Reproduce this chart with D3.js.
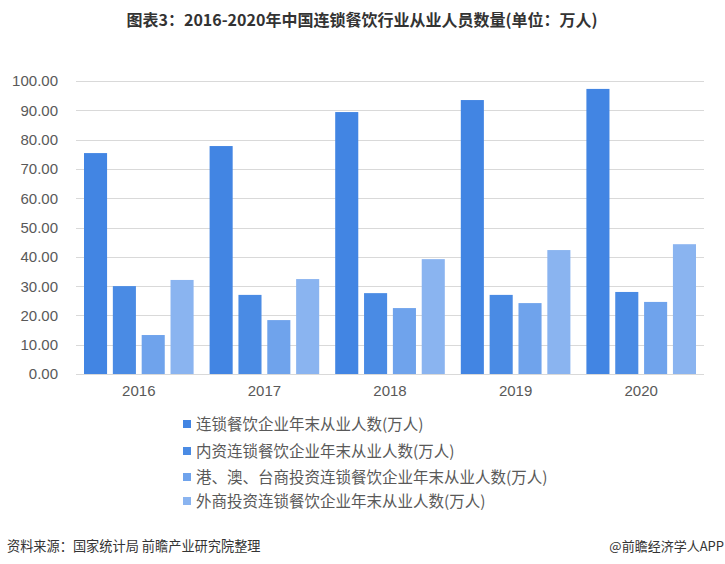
<!DOCTYPE html>
<html><head><meta charset="utf-8">
<script src="https://cdn.jsdelivr.net/npm/d3@7/dist/d3.min.js"></script>
<style>body{margin:0;background:#fff}svg{display:block}</style>
</head><body>
<svg id="c" width="725" height="564"></svg>
<script>
const years = ["2016","2017","2018","2019","2020"];
const seriesNames = [
  "连锁餐饮企业年末从业人数(万人)",
  "内资连锁餐饮企业年末从业人数(万人)",
  "港、澳、台商投资连锁餐饮企业年末从业人数(万人)",
  "外商投资连锁餐饮企业年末从业人数(万人)"
];
const totalValues    = [75.4, 77.8, 89.4, 93.5, 97.3];
const domesticValues = [30.0, 27.0, 27.6, 27.0, 28.0];
const hmtValues      = [13.3, 18.4, 22.5, 24.2, 24.6];
const foreignValues  = [32.1, 32.4, 39.2, 42.3, 44.3];
const yTicks = [0,10,20,30,40,50,60,70,80,90,100];
const colors = ["#4285e3","#4a8be4","#6fa3ec","#8ab4f0"];

const series = [totalValues, domesticValues, hmtValues, foreignValues];
const svg = d3.select("#c");
const font = "'Liberation Sans','Noto Sans CJK SC',sans-serif";
const cjk = "'Noto Sans CJK SC',sans-serif";

const x0 = d3.scaleBand().domain(years).range([76,704]).paddingInner(0).paddingOuter(0);
const x1 = d3.scaleBand().domain(d3.range(4)).range([8, x0.bandwidth()-8]).paddingInner(0.2).paddingOuter(0);
const y = d3.scaleLinear().domain([0,100]).range([374,81]);

// grid
svg.append("g").selectAll("line").data(yTicks).join("line")
  .attr("x1",76).attr("x2",704)
  .attr("y1",d=>Math.round(y(d))+0.5).attr("y2",d=>Math.round(y(d))+0.5)
  .attr("stroke","#d9d9d9").attr("stroke-width",1);

// y labels
svg.append("g").selectAll("text").data(yTicks).join("text")
  .attr("x",58).attr("y",d=>y(d)).attr("dy","0.36em")
  .attr("text-anchor","end").attr("font-family",font).attr("font-size",15)
  .attr("fill","#595959").text(d=>d.toFixed(2));

// bars
const g = svg.append("g");
years.forEach((yr,i)=>{
  series.forEach((s,k)=>{
    g.append("rect")
      .attr("x", x0(yr)+x1(k)).attr("width", x1.bandwidth())
      .attr("y", y(s[i])).attr("height", y(0)-y(s[i]))
      .attr("fill", colors[k]);
  });
});

// x labels
svg.append("g").selectAll("text").data(years).join("text")
  .attr("x",d=>x0(d)+x0.bandwidth()/2).attr("y",391).attr("dy","0.36em")
  .attr("text-anchor","middle").attr("font-family",font).attr("font-size",15)
  .attr("fill","#595959").text(d=>d);

// legend
const legY = [424,451,477,501];
const lg = svg.append("g");
seriesNames.forEach((n,k)=>{
  lg.append("rect").attr("x",183).attr("y",legY[k]-4).attr("width",8).attr("height",8).attr("fill",colors[k]);
  lg.append("text").attr("x",196).attr("y",legY[k]).attr("dy","0.36em")
    .attr("font-family",cjk).attr("font-size",15.5).attr("fill","#595959").text(n);
});

// title
svg.append("text").attr("x",362).attr("y",20).attr("dy","0.36em")
  .attr("text-anchor","middle").attr("font-family",cjk).attr("font-weight","bold")
  .attr("font-size",16).attr("fill","#333").text("图表3：2016-2020年中国连锁餐饮行业从业人员数量(单位：万人)");

// footer
svg.append("text").attr("x",7).attr("y",546).attr("dy","0.36em")
  .attr("font-family",cjk).attr("font-size",13.2).attr("fill","#333")
  .text("资料来源：国家统计局 前瞻产业研究院整理");
svg.append("text").attr("x",724).attr("y",546).attr("dy","0.36em").attr("text-anchor","end")
  .attr("font-family",cjk).attr("font-size",13).attr("fill","#333")
  .text("@前瞻经济学人APP");
</script>
</body></html>
